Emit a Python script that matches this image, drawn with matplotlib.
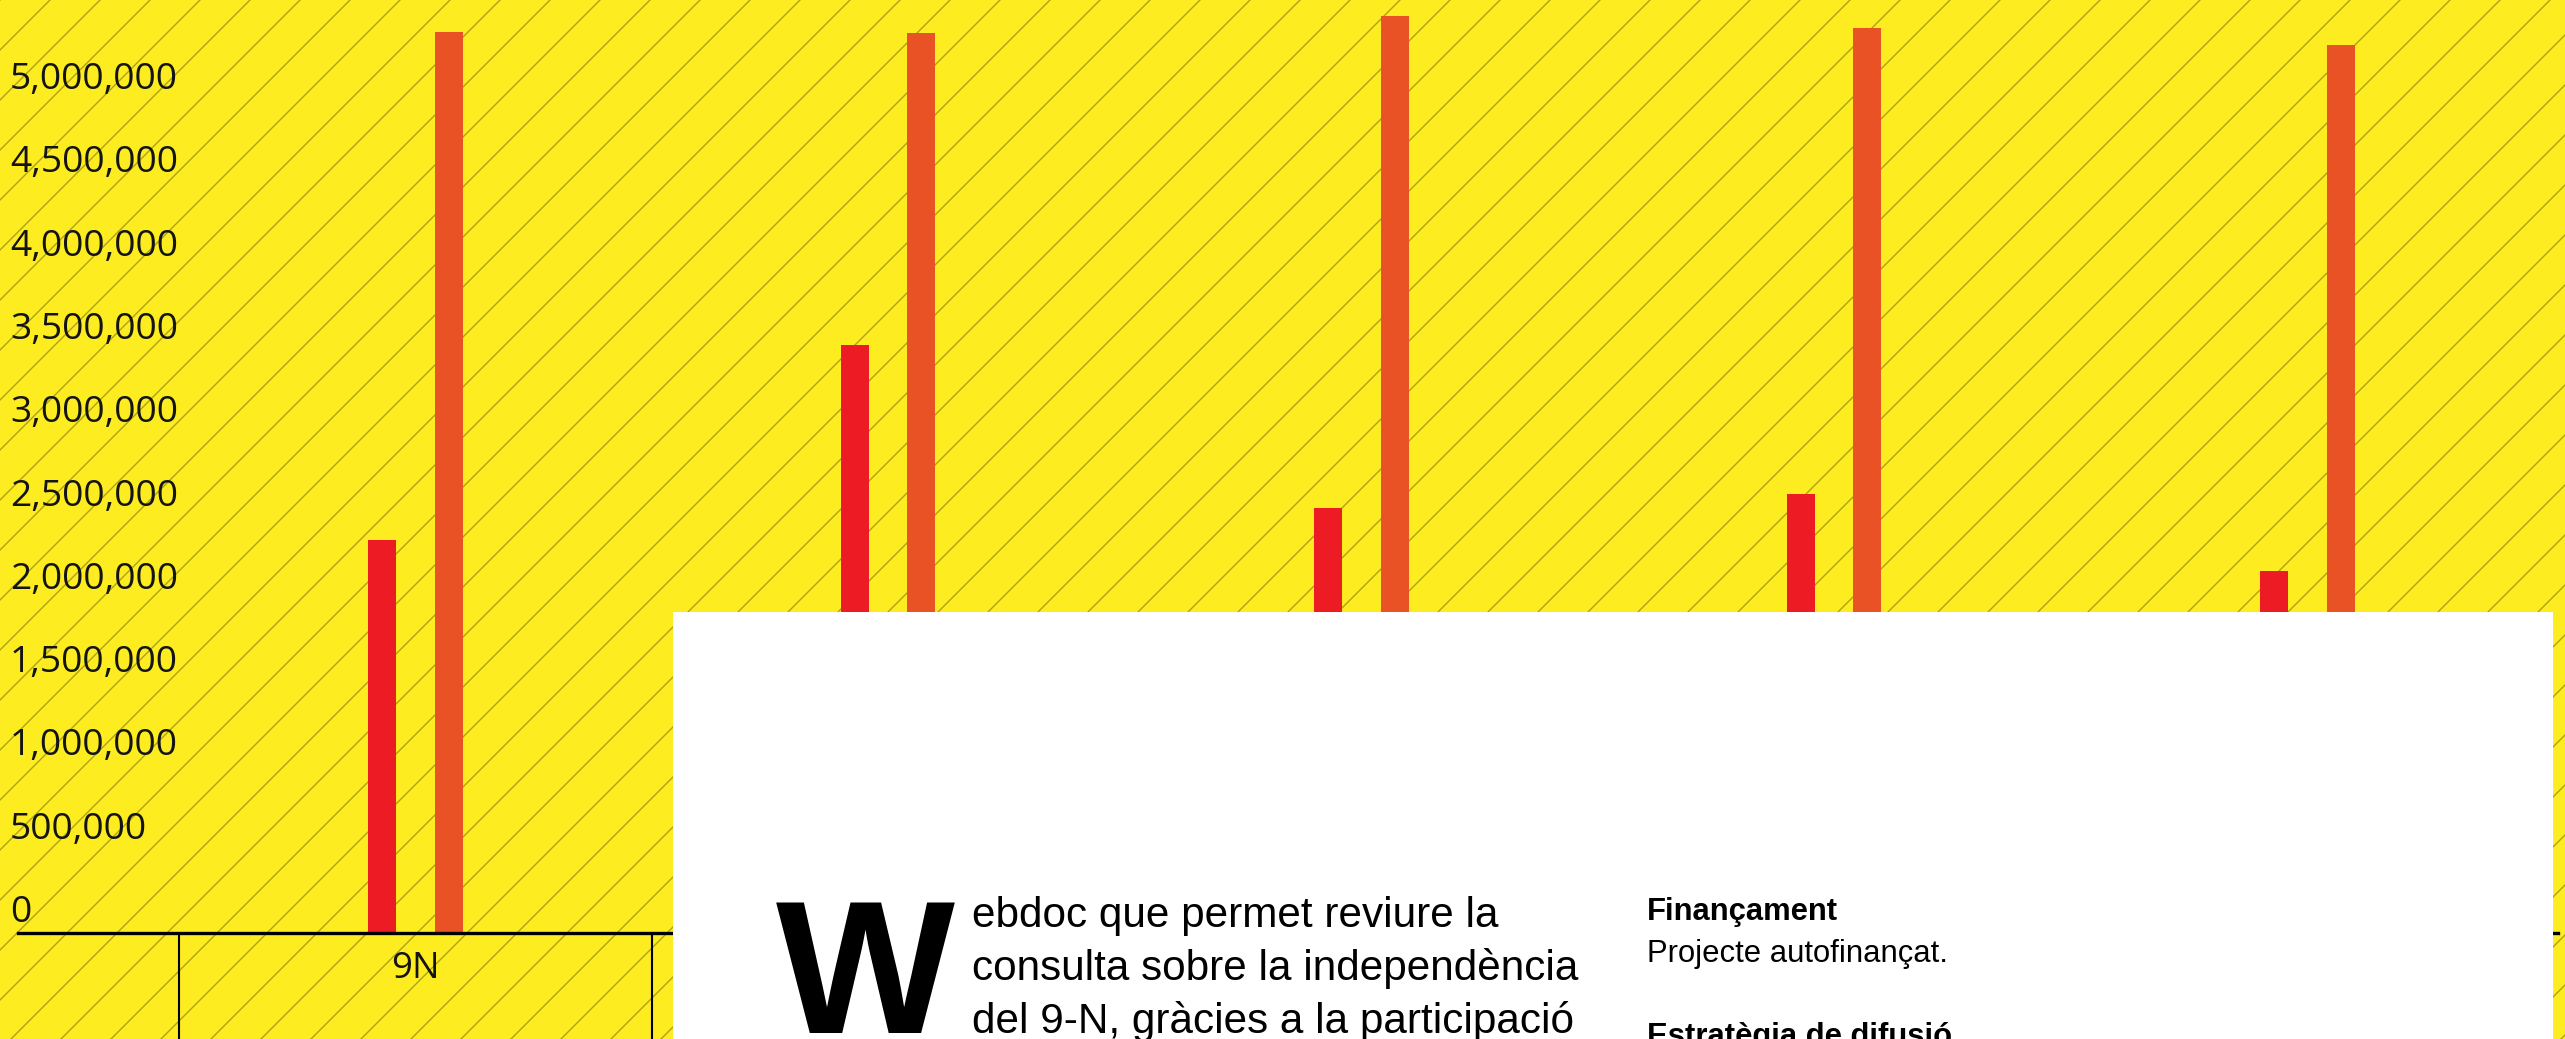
import matplotlib
matplotlib.use('Agg')
import numpy as np
import matplotlib.pyplot as plt
from matplotlib.patches import Rectangle
from matplotlib.transforms import ScaledTranslation, blended_transform_factory

# values
categories = ['9N', '', '', '', '']
participacio = [2.357e6, 3.527e6, 2.553e6, 2.634e6, 2.174e6]
cens = [5.410e6, 5.405e6, 5.506e6, 5.431e6, 5.329e6]
yticks = np.arange(0, 5.0e6 + 1, 0.5e6)

body_lines = ['ebdoc que permet reviure la',
              'consulta sobre la independència',
              'del 9-N, gràcies a la participació']

W, H, DPI = 2565, 1039, 150
yellow = '#FDEC1F'
hatch_col = '#ABA01E'
red = '#ED1C24'
orange = '#E95225'

plt.rcParams['hatch.linewidth'] = 0.65

fig = plt.figure(figsize=(W / DPI, H / DPI), dpi=DPI)
fig.patch.set_facecolor(yellow)

# hatched yellow background behind the chart
fig.add_artist(Rectangle((0, 0), 1, 1, transform=fig.transFigure,
                         facecolor=yellow, edgecolor=hatch_col, hatch='/',
                         linewidth=0, zorder=-1))

ax = fig.add_axes([0, 0, 1, 1])
ax.axis('off')

# pixel layout of the original screenshot
cat_px, cat0_px = 473.0, 415.0
zero_px, px_per_m = 933.0, 166.6
ax.set_xlim((0 - cat0_px) / cat_px, (W - cat0_px) / cat_px)
ax.set_ylim(-(H - zero_px) / px_per_m * 1e6, zero_px / px_per_m * 1e6)

x = np.arange(len(categories))
bw = 28 / cat_px
off = 33.5 / cat_px
ax.bar(x - off, participacio, width=bw, color=red, zorder=2)
ax.bar(x + off, cens, width=bw, color=orange, zorder=2)

# axis line and table separators
ax.axhline(0, xmin=18 / W, xmax=2558 / W, color='black', lw=1.6, zorder=3)
ax.vlines(np.arange(len(categories) + 1) - 0.5, ax.get_ylim()[0], 0,
          colors='black', lw=1.0, zorder=3)

lab_tr = blended_transform_factory(ax.transAxes, ax.transData) + \
    ScaledTranslation(0, 11 / DPI, fig.dpi_scale_trans)
for v in yticks:
    ax.text(10 / W, v, f'{int(v):,}', transform=lab_tr, ha='left',
            va='baseline', fontsize=17.8, family='Open Sans', color='#141414')

for i, c in enumerate(categories):
    ax.text(i, (H - 978) / H, c, transform=ax.get_xaxis_transform(),
            ha='center', va='baseline', fontsize=17.6, family='Open Sans',
            color='#141414')


def fx(px):
    return px / W


def fy(py):
    return (H - py) / H


# white text panel on top
fig.add_artist(Rectangle((fx(673), 0), fx(2553) - fx(673), fy(612),
                         transform=fig.transFigure, facecolor='white',
                         edgecolor='none', zorder=10))

fig.text(fx(776), fy(1033), 'W', fontsize=91, fontweight='bold',
         family='Liberation Sans', ha='left', va='baseline', zorder=11)
for i, line in enumerate(body_lines):
    fig.text(fx(972), fy(926.5 + 53.3 * i), line, fontsize=20.3,
             family='Liberation Sans', ha='left', va='baseline', zorder=11)

fig.text(fx(1647), fy(920), 'Finançament', fontsize=14.9, fontweight='bold',
         family='Liberation Sans', ha='left', va='baseline', zorder=11)
fig.text(fx(1647), fy(962), 'Projecte autofinançat.', fontsize=14.9,
         family='Liberation Sans', ha='left', va='baseline', zorder=11)
fig.text(fx(1647), fy(1045), 'Estratègia de difusió', fontsize=14.9,
         fontweight='bold', family='Liberation Sans', ha='left',
         va='baseline', zorder=11)

fig.savefig('out.png', dpi=DPI, facecolor=yellow)
